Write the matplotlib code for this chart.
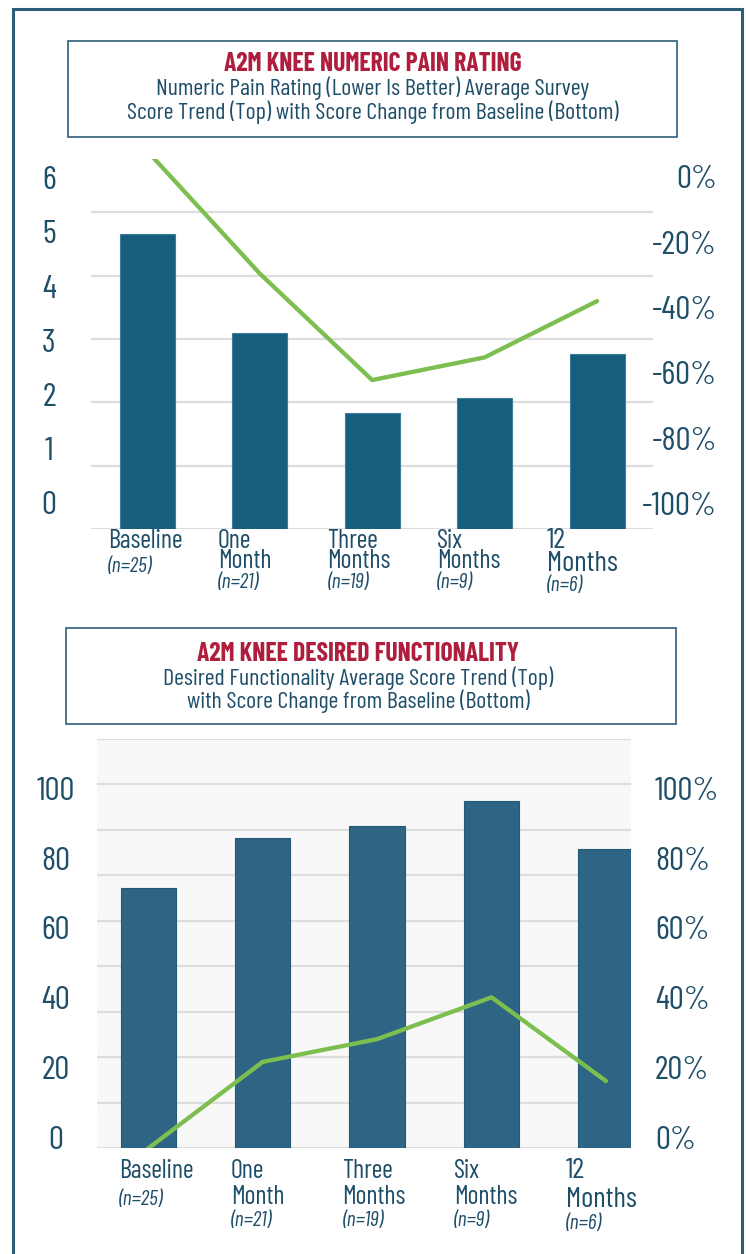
import matplotlib
matplotlib.use('Agg')
import matplotlib.pyplot as plt
from matplotlib.patches import Rectangle
from matplotlib import font_manager as fm
import numpy as np

# data
categories = ['Baseline', 'One\nMonth', 'Three\nMonths', 'Six\nMonths', '12\nMonths']
n_labels = ['(n=25)', '(n=21)', '(n=19)', '(n=9)', '(n=6)']

pain_scores = [4.65, 3.10, 1.83, 2.06, 2.77]
pain_change = [0, -32.4, -60.6, -54.6, -39.7]          # % from baseline

func_scores = [57.3, 68.3, 70.9, 76.4, 65.9]
func_change = [0, 19.0, 24.0, 33.2, 14.8]              # % from baseline

pain_ticks = [0, 1, 2, 3, 4, 5, 6]
pain_pct_ticks = [-100, -80, -60, -40, -20, 0]
func_ticks = [0, 20, 40, 60, 80, 100]
func_pct_ticks = [0, 20, 40, 60, 80, 100]

# colours
CRIMSON = '#b01e3e'
NAVY = '#1f4e69'
BORDER = '#2d5d78'
BAR1 = '#165e7e'
BAR2 = '#2e6584'
GREEN = '#7dbe50'
GRID = '#dddddd'

# condensed face, first one that is installed
names = {f.name for f in fm.fontManager.ttflist}
FONT = 'DejaVu Sans'
for cand in ['Barlow Condensed', 'Barlow Semi Condensed', 'Roboto Condensed']:
    if cand in names:
        FONT = cand
        break

W, H = 746, 1254
fig = plt.figure(figsize=(W / 100, H / 100), dpi=100)


def fx(px):
    return px / W


def fy(px):
    return 1 - px / H


def txt(x, y, s, **kw):
    kw.setdefault('color', NAVY)
    fig.text(fx(x), fy(y), s, fontfamily=FONT, **kw)


def frame(x0, y0, x1, y1, **kw):
    fig.patches.append(Rectangle((fx(x0), fy(y1)), fx(x1) - fx(x0), (y1 - y0) / H,
                                 transform=fig.transFigure, fill=False, clip_on=False, **kw))


def header(box, cx, baselines, title, sub):
    frame(*box, ec=BORDER, lw=1.2)
    txt(cx, baselines[0], title, ha='center', va='baseline', color=CRIMSON,
        fontweight='bold', size=18.5)
    for line, b in zip(sub, baselines[1:]):
        txt(cx, b, line, ha='center', va='baseline', size=17.2)


def side_labels(values, fmt, y_top, y_bot, x, ha):
    # the value labels in the source are evenly spaced but do not sit on the gridlines
    lo, hi = min(values), max(values)
    for v in values:
        y = y_bot - (v - lo) / (hi - lo) * (y_bot - y_top)
        txt(x, y + 11.7, fmt.format(v), ha=ha, va='baseline', size=24)


def x_labels(x_first, x_last, base0, step, n_step):
    xs = np.linspace(x_first, x_last, len(categories))
    for x, name, n in zip(xs, categories, n_labels):
        lines = name.split('\n')
        big = 1.12 if name.startswith('12') else 1.0
        y = base0
        for k, line in enumerate(lines):
            y = base0 + k * step * big
            txt(x, y, line, ha='left', va='baseline', size=18.8 * big)
        gap = n_step + (4.5 if len(lines) == 1 else 0)
        txt(x, y + gap, n, ha='left', va='baseline', size=15.5, style='italic')


def chart(left, right, top, bottom, xlim, ylim, grid, scores, change, pct_lim, bar_col, edge, width, face):
    ax = fig.add_axes([fx(left), fy(bottom), fx(right) - fx(left), (bottom - top) / H])
    x = np.arange(len(scores))
    ax.set_facecolor(face)
    ax.bar(x, scores, width=width, color=bar_col, edgecolor=edge, linewidth=0.8, zorder=2)
    ax.set_xlim(*xlim)
    ax.set_ylim(*ylim)
    ax.set_yticks(grid)
    ax.set_xticks([])
    ax.yaxis.grid(True, color=GRID, lw=1.6)
    ax.set_axisbelow(True)
    axr = ax.twinx()
    axr.plot(x, change, color=GREEN, lw=3.1, solid_capstyle='round', zorder=3)
    axr.set_ylim(*pct_lim)
    axr.set_yticks([])
    for a in (ax, axr):
        a.tick_params(left=False, right=False, labelleft=False, labelright=False)
        for s in a.spines.values():
            s.set_visible(False)
    return ax


# outer frame, open at the bottom
frame(13, 9, 741.5, 1300, ec=BORDER, lw=2.2)

# ---- chart 1 : numeric pain rating
header((68, 41, 677, 137), 373, [71, 95, 118.5],
       'A2M KNEE NUMERIC PAIN RATING',
       ['Numeric Pain Rating (Lower Is Better) Average Survey',
        'Score Trend (Top) with Score Change from Baseline (Bottom)'])
chart(91, 653.3, 159, 529, (-0.5, 4.5), (0, 5.84), range(6),
      pain_scores, pain_change, (-100, -2.12), BAR1, '#3f7c99', 0.49, 'none')
side_labels(pain_ticks, '{}', 177.5, 502.8, 49, 'center')
side_labels(pain_pct_ticks, '{}%', 176.7, 503.3, 717, 'right')
x_labels(108.3, 546.7, 547.5, 21, 20)

# ---- chart 2 : desired functionality
header((66, 627.5, 676, 724), 358, [660.7, 685, 708.3],
       'A2M KNEE DESIRED FUNCTIONALITY',
       ['Desired Functionality Average Score Trend (Top)',
        'with Score Change from Baseline (Bottom)'])
chart(96.7, 631, 739, 1148.3, (-0.451, 4.219), (0, 90), range(0, 91, 10),
      func_scores, func_change, (0, 90), BAR2, '#245a78', 0.485, '#f8f8f8')
side_labels(func_ticks, '{}', 788, 1137, 56, 'center')
side_labels(func_pct_ticks, '{}%', 788, 1137, 655, 'left')
x_labels(119.3, 565.7, 1178.3, 26, 22)

fig.savefig('out.png', dpi=100)
